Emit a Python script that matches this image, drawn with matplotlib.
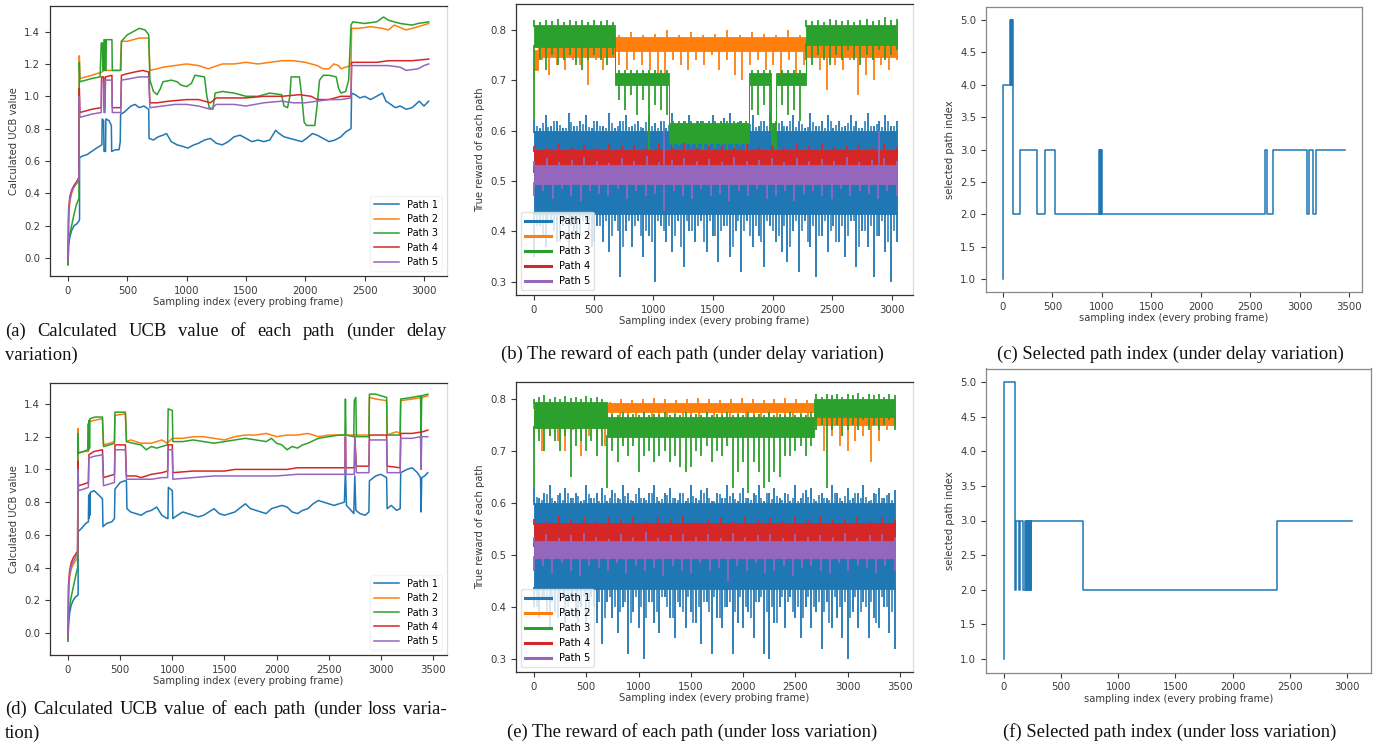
import numpy as np
import matplotlib
matplotlib.use("Agg")
import matplotlib.pyplot as plt
from matplotlib.lines import Line2D

W, H = 1379, 745
COLORS = ['#1f77b4', '#ff7f0e', '#2ca02c', '#d62728', '#9467bd']
LABELS = ['Path 1', 'Path 2', 'Path 3', 'Path 4', 'Path 5']

# ---------------- (a) UCB under delay variation ----------------
ucb_delay_p1 = [(0,-0.04),(5,0.08),(15,0.13),(30,0.17),(50,0.20),(70,0.21),(92,0.23),(97,0.24),(97,0.62),(120,0.63),(160,0.64),(200,0.66),(240,0.68),(285,0.70),(288,0.86),(300,0.85),(303,0.66),(316,0.66),(319,0.86),(345,0.85),(365,0.82),(368,0.66),(400,0.67),(430,0.67),(440,0.72),(443,0.89),(470,0.90),(500,0.92),(530,0.94),(565,0.95),(600,0.93),(640,0.94),(680,0.92),(683,0.74),(720,0.73),(760,0.75),(800,0.76),(830,0.77),(870,0.72),(920,0.70),(970,0.69),(1010,0.68),(1060,0.70),(1100,0.71),(1150,0.73),(1200,0.74),(1250,0.71),(1300,0.70),(1350,0.72),(1400,0.75),(1450,0.76),(1500,0.74),(1550,0.72),(1600,0.73),(1650,0.72),(1700,0.73),(1750,0.79),(1780,0.77),(1820,0.75),(1870,0.74),(1920,0.73),(1970,0.72),(2010,0.74),(2060,0.77),(2100,0.76),(2150,0.74),(2200,0.72),(2250,0.73),(2300,0.75),(2340,0.78),(2385,0.80),(2390,1.02),(2420,1.01),(2460,0.99),(2500,1.00),(2550,0.98),(2600,1.00),(2650,1.02),(2680,0.97),(2720,0.95),(2760,0.93),(2800,0.94),(2850,0.92),(2900,0.93),(2930,0.95),(2960,0.97),(3000,0.94),(3040,0.97)]
ucb_delay_p2 = [(0,-0.03),(5,0.25),(15,0.35),(30,0.40),(50,0.44),(70,0.46),(92,0.48),(95,1.25),(100,1.11),(150,1.12),(200,1.13),(285,1.15),(300,1.16),(370,1.16),(440,1.16),(450,1.34),(500,1.34),(550,1.35),(600,1.36),(680,1.36),(690,1.16),(750,1.17),(800,1.18),(900,1.19),(1000,1.20),(1100,1.19),(1180,1.17),(1220,1.18),(1300,1.20),(1400,1.20),(1500,1.21),(1600,1.20),(1700,1.21),(1800,1.22),(1900,1.22),(2000,1.21),(2100,1.19),(2150,1.17),(2200,1.17),(2240,1.20),(2280,1.19),(2300,1.17),(2340,1.18),(2385,1.19),(2390,1.42),(2450,1.42),(2550,1.43),(2650,1.42),(2700,1.41),(2750,1.44),(2850,1.41),(2950,1.43),(3040,1.45)]
ucb_delay_p3 = [(0,-0.04),(5,0.10),(15,0.15),(30,0.20),(50,0.27),(70,0.33),(92,0.37),(95,1.21),(100,1.09),(150,1.10),(200,1.11),(270,1.12),(280,1.33),(290,1.33),(293,1.16),(300,1.16),(303,1.35),(310,1.35),(313,1.16),(320,1.16),(323,1.35),(370,1.35),(373,1.16),(445,1.16),(450,1.34),(500,1.38),(550,1.40),(600,1.42),(650,1.41),(680,1.38),(690,1.10),(720,1.03),(750,1.01),(780,1.05),(800,1.09),(870,1.10),(920,1.09),(950,1.07),(1000,1.06),(1040,1.08),(1070,1.13),(1150,1.12),(1170,1.00),(1190,0.93),(1220,0.92),(1240,1.02),(1300,1.03),(1400,1.02),(1500,1.00),(1600,1.00),(1700,1.02),(1800,1.01),(1820,0.94),(1850,0.93),(1870,1.00),(1880,1.12),(1950,1.12),(1970,1.00),(1990,0.84),(2010,0.82),(2080,0.82),(2100,0.95),(2120,1.10),(2150,1.13),(2200,1.13),(2260,1.12),(2280,1.05),(2300,1.02),(2340,1.03),(2365,1.10),(2385,1.44),(2400,1.46),(2500,1.45),(2600,1.46),(2660,1.49),(2700,1.47),(2800,1.45),(2900,1.44),(2950,1.45),(3040,1.46)]
ucb_delay_p4 = [(0,-0.02),(5,0.30),(15,0.38),(30,0.42),(50,0.45),(70,0.47),(92,0.50),(95,1.05),(100,0.90),(150,0.91),(200,0.92),(280,0.93),(283,1.12),(300,1.12),(303,0.93),(312,0.93),(315,1.12),(370,1.13),(373,0.93),(445,0.93),(450,1.13),(500,1.14),(560,1.15),(630,1.16),(680,1.15),(690,0.96),(750,0.96),(850,0.97),(1000,0.98),(1100,0.98),(1200,0.96),(1250,0.99),(1350,0.99),(1500,0.99),(1650,1.00),(1800,1.00),(1950,1.01),(2050,1.00),(2100,0.98),(2200,0.98),(2300,1.00),(2385,1.00),(2390,1.21),(2500,1.21),(2600,1.21),(2700,1.22),(2800,1.22),(2900,1.22),(3040,1.23)]
ucb_delay_p5 = [(0,-0.02),(5,0.28),(15,0.36),(30,0.41),(50,0.44),(70,0.46),(92,0.49),(95,1.00),(100,0.87),(150,0.88),(200,0.89),(280,0.90),(283,1.09),(300,1.09),(303,0.90),(312,0.90),(315,1.10),(370,1.10),(373,0.90),(445,0.90),(450,1.10),(530,1.11),(600,1.12),(680,1.12),(690,0.93),(800,0.94),(900,0.95),(1000,0.95),(1100,0.94),(1200,0.92),(1250,0.95),(1400,0.95),(1500,0.94),(1650,0.96),(1800,0.97),(1900,0.96),(2000,0.96),(2100,0.97),(2200,0.98),(2300,0.98),(2385,0.99),(2390,1.19),(2500,1.19),(2600,1.19),(2700,1.19),(2800,1.18),(2850,1.16),(2950,1.17),(3000,1.19),(3040,1.20)]

# ---------------- (d) UCB under loss variation ----------------
ucb_loss_p1 = [(0,-0.05),(5,0.05),(15,0.12),(30,0.17),(50,0.20),(70,0.22),(92,0.23),(97,0.24),(97,0.62),(130,0.64),(170,0.67),(195,0.68),(198,0.84),(202,0.70),(206,0.85),(210,0.72),(214,0.86),(250,0.87),(300,0.84),(330,0.82),(335,0.65),(370,0.67),(420,0.68),(445,0.70),(450,0.88),(500,0.92),(540,0.93),(560,0.93),(565,0.76),(600,0.74),(650,0.73),(700,0.72),(750,0.74),(800,0.75),(850,0.77),(900,0.72),(950,0.70),(958,0.70),(962,0.89),(1000,0.87),(1005,0.70),(1050,0.72),(1100,0.74),(1150,0.73),(1200,0.72),(1250,0.71),(1300,0.72),(1350,0.74),(1400,0.76),(1450,0.73),(1500,0.72),(1550,0.73),(1600,0.74),(1700,0.79),(1750,0.76),(1800,0.75),(1850,0.74),(1900,0.73),(1950,0.76),(2000,0.77),(2050,0.78),(2100,0.77),(2150,0.74),(2200,0.73),(2250,0.75),(2300,0.76),(2350,0.79),(2400,0.81),(2450,0.80),(2500,0.79),(2550,0.78),(2600,0.79),(2650,0.80),(2660,1.00),(2670,0.78),(2700,0.76),(2740,0.73),(2750,0.96),(2760,0.75),(2800,0.73),(2850,0.72),(2885,0.74),(2890,0.93),(2950,0.96),(3000,0.97),(3055,0.95),(3060,0.76),(3100,0.78),(3150,0.75),(3185,0.76),(3190,0.98),(3250,1.00),(3300,1.01),(3350,0.98),(3380,0.95),(3385,0.74),(3392,0.95),(3420,0.96),(3450,0.98)]
ucb_loss_p2 = [(0,-0.03),(5,0.25),(15,0.34),(30,0.39),(50,0.42),(70,0.44),(92,0.46),(95,1.25),(100,1.10),(150,1.11),(195,1.11),(200,1.29),(250,1.30),(330,1.31),(340,1.15),(400,1.16),(445,1.17),(450,1.33),(550,1.34),(560,1.17),(600,1.18),(650,1.17),(700,1.16),(800,1.16),(850,1.17),(900,1.18),(950,1.16),(1000,1.19),(1100,1.19),(1200,1.20),(1300,1.20),(1400,1.19),(1500,1.18),(1600,1.20),(1700,1.21),(1800,1.21),(1900,1.22),(2000,1.20),(2100,1.21),(2200,1.21),(2300,1.22),(2400,1.20),(2500,1.21),(2600,1.21),(2700,1.21),(2885,1.21),(2890,1.44),(2950,1.43),(3055,1.42),(3060,1.21),(3150,1.23),(3185,1.22),(3190,1.42),(3300,1.43),(3400,1.44),(3450,1.45)]
ucb_loss_p3 = [(0,-0.04),(5,0.10),(15,0.16),(30,0.22),(50,0.28),(70,0.34),(92,0.40),(95,1.22),(100,1.10),(150,1.11),(190,1.12),(195,1.28),(198,1.12),(202,1.30),(206,1.13),(210,1.31),(260,1.32),(330,1.32),(340,1.14),(400,1.15),(445,1.16),(450,1.35),(550,1.35),(560,1.17),(620,1.16),(700,1.15),(750,1.12),(800,1.14),(850,1.13),(900,1.14),(955,1.15),(960,1.37),(1000,1.36),(1005,1.17),(1100,1.17),(1200,1.18),(1300,1.17),(1400,1.16),(1500,1.17),(1600,1.18),(1700,1.19),(1800,1.18),(1900,1.17),(1950,1.19),(2000,1.16),(2050,1.15),(2100,1.12),(2150,1.14),(2200,1.13),(2250,1.15),(2300,1.16),(2400,1.19),(2500,1.20),(2600,1.21),(2655,1.21),(2660,1.43),(2665,1.21),(2740,1.20),(2745,1.42),(2760,1.44),(2765,1.20),(2885,1.20),(2890,1.46),(2950,1.46),(3000,1.45),(3055,1.44),(3060,1.21),(3185,1.21),(3190,1.43),(3300,1.44),(3380,1.45),(3385,1.20),(3392,1.45),(3450,1.46)]
ucb_loss_p4 = [(0,-0.02),(5,0.30),(15,0.38),(30,0.43),(50,0.46),(70,0.48),(92,0.50),(95,1.05),(100,0.90),(150,0.91),(195,0.92),(200,1.09),(250,1.11),(330,1.12),(340,0.95),(445,0.97),(450,1.15),(550,1.15),(560,0.96),(650,0.96),(700,0.95),(800,0.97),(900,0.98),(955,0.99),(960,1.15),(1000,1.15),(1005,0.98),(1200,0.99),(1400,0.99),(1500,0.99),(1600,1.00),(1800,1.00),(2000,1.00),(2100,1.00),(2200,1.01),(2400,1.01),(2500,1.01),(2655,1.01),(2660,1.20),(2665,1.01),(2745,1.01),(2750,1.20),(2765,1.02),(2885,1.02),(2890,1.21),(3055,1.21),(3060,1.02),(3185,1.01),(3190,1.22),(3300,1.22),(3400,1.23),(3450,1.24)]
ucb_loss_p5 = [(0,-0.02),(5,0.28),(15,0.36),(30,0.41),(50,0.44),(70,0.46),(92,0.49),(95,1.00),(100,0.87),(150,0.88),(195,0.89),(200,1.07),(250,1.08),(330,1.09),(340,0.90),(445,0.92),(450,1.12),(550,1.12),(560,0.94),(650,0.94),(800,0.94),(900,0.95),(955,0.95),(960,1.12),(1000,1.12),(1005,0.94),(1200,0.95),(1400,0.96),(1600,0.96),(1800,0.96),(2000,0.96),(2200,0.97),(2400,0.97),(2500,0.97),(2655,0.97),(2660,1.20),(2665,0.97),(2745,0.97),(2750,1.19),(2765,0.98),(2885,0.98),(2890,1.18),(3055,1.18),(3060,0.98),(3185,0.98),(3190,1.19),(3300,1.19),(3380,1.20),(3385,1.00),(3392,1.20),(3450,1.20)]

# ---------------- (b) true reward under delay variation ----------------
rew_delay_core_x = {1: [0, 3040], 2: [0, 30, 680, 2280, 3040],
                    3: [0, 680, 1130, 1800, 1990, 2030, 2280, 3040], 4: [0, 3040], 5: [0, 3040]}
rew_delay_core_lo = {1: [0.435, 0.435], 2: [0.72, 0.745, 0.758, 0.745, 0.745],
                     3: [0.765, 0.69, 0.575, 0.69, 0.57, 0.69, 0.77, 0.77], 4: [0.527, 0.527], 5: [0.495, 0.495]}
rew_delay_core_hi = {1: [0.60, 0.60], 2: [0.76, 0.785, 0.785, 0.785, 0.785],
                     3: [0.81, 0.715, 0.615, 0.715, 0.615, 0.715, 0.81, 0.81], 4: [0.562, 0.562], 5: [0.532, 0.532]}
rew_delay_top = {
    1: [0.62,0.605,0.63,0.61,0.62,0.605,0.635,0.61,0.62,0.63,0.605,0.62,0.61,0.635,0.605,0.62,0.63,0.61,0.62,0.605,0.63,0.615,0.62,0.605,0.635,0.61,0.62,0.63,0.605,0.62,0.61,0.63,0.605,0.625,0.635,0.61,0.62,0.605,0.63,0.61,0.62,0.635,0.605,0.62,0.61,0.63,0.62,0.605,0.635,0.61,0.62,0.63,0.605,0.62,0.61,0.63,0.62,0.605,0.635,0.61,0.62,0.63,0.61,0.62],
    2: [0.76,0.79,0.792,0.79,0.795,0.79,0.792,0.79,0.795,0.79,0.792,0.80,0.79,0.795,0.79,0.792,0.80,0.79,0.795,0.792,0.79,0.80,0.79,0.795,0.79,0.792,0.795,0.79,0.80,0.79,0.795],
    3: [0.82,0.815,0.82,0.818,0.822,0.815,0.82,0.818,0.82,0.815,0.82,0.818,0.82,0.815,
        0.72,0.72,0.72,0.72,0.72,0.72,0.72,0.72,0.72,
        0.62,0.62,0.62,0.62,0.62,0.62,0.62,0.62,0.62,0.62,0.62,0.62,0.62,
        0.72,0.72,0.72,0.72, 0.62, 0.72,0.72,0.72,0.72,
        0.82,0.818,0.82,0.815,0.822,0.82,0.818,0.82,0.815,0.82,0.822,0.818,0.82,0.825,0.82,0.822],
    4: [0.57,0.565,0.575,0.568,0.572,0.566,0.574,0.569,0.571,0.565,0.573,0.567,0.575,0.566,0.57,0.572,0.565,0.574,0.568,0.571,0.566,0.573,0.569,0.575,0.567,0.57,0.572,0.566,0.574,0.568],
    5: [0.54,0.545,0.538,0.542,0.548,0.54,0.536,0.545,0.54,0.55,0.538,0.542,0.546,0.54,0.544,0.538,0.548,0.54,0.542,0.545,0.538,0.546,0.54,0.544,0.54,0.548,0.538,0.542,0.545,0.54]}
rew_delay_bottom = {
    1: [0.35,0.41,0.37,0.42,0.38,0.41,0.36,0.40,0.39,0.42,0.37,0.41,0.38,0.36,0.42,0.31,0.40,0.37,0.42,0.35,0.39,0.30,0.41,0.38,0.36,0.42,0.33,0.40,0.38,0.42,0.36,0.39,0.34,0.41,0.35,0.40,0.32,0.42,0.37,0.39,0.33,0.41,0.38,0.36,0.34,0.40,0.32,0.42,0.37,0.31,0.39,0.36,0.41,0.38,0.35,0.42,0.33,0.40,0.37,0.31,0.39,0.36,0.30,0.38],
    2: [0.70,0.74,0.71,0.73,0.72,0.74,0.73,0.69,0.74,0.72,0.75,0.73,0.72,0.74,0.73,0.72,0.70,0.71,0.74,0.73,0.72,0.74,0.73,0.75,0.72,0.74,0.71,0.70,0.73,0.74,0.72,0.73,0.70,0.74,0.71,0.73,0.75,0.72,0.68,0.73,0.72,0.74,0.67,0.71,0.70,0.73,0.72,0.74],
    3: [0.62,0.74,0.72,0.75,0.73,0.74,0.75,0.73,0.72,0.74,0.75,0.74,0.73,0.75,
        0.66,0.64,0.67,0.63,0.66,0.56,0.65,0.64,0.63,
        0.565,0.57,0.56,0.57,0.565,0.56,0.57,0.565,0.57,0.56,0.565,0.57,0.555,
        0.64,0.63,0.65,0.60, 0.49, 0.65,0.63,0.64,0.62,
        0.74,0.73,0.75,0.74,0.73,0.75,0.74,0.76,0.74,0.73,0.75,0.74,0.76,0.74,0.75,0.76],
    4: [0.515,0.52,0.51,0.518,0.512,0.52,0.514,0.509,0.517,0.512,0.52,0.51,0.516,0.513,0.519,0.511,0.517,0.52,0.512,0.515,0.51,0.518,0.513,0.52,0.511,0.516,0.514,0.519,0.512,0.517],
    5: [0.47,0.48,0.465,0.485,0.47,0.46,0.48,0.475,0.47,0.485,0.465,0.48,0.47,0.475,0.44,0.48,0.47,0.465,0.485,0.47,0.475,0.46,0.48,0.47,0.485,0.465,0.47,0.48,0.46,0.475,0.48,0.47,0.465,0.485,0.47,0.48,0.475,0.465,0.48,0.47]}
# smaller in-between excursions of path 1 (half-way between the peaks above)
rew_delay_top_mid = {1: [0.61,0.615,0.608,0.62,0.612,0.605,0.618,0.61,0.614,0.607,0.62,0.61,0.606,0.616,0.61,0.62,0.608,0.613,0.607,0.618,0.61,0.605,0.62,0.612,0.608,0.615,0.61,0.606,0.619,0.61,0.614,0.607,0.62,0.61,0.605,0.617,0.61,0.613,0.608,0.62,0.61,0.606,0.616,0.61,0.62,0.608,0.613,0.607,0.618,0.61,0.605,0.62,0.612,0.608,0.615,0.61,0.606,0.619,0.61,0.614,0.607,0.62,0.61]}
rew_delay_bottom_mid = {1: [0.41,0.39,0.42,0.40,0.38,0.42,0.41,0.39,0.42,0.40,0.38,0.41,0.42,0.39,0.40,0.37,0.42,0.41,0.39,0.40,0.38,0.42,0.40,0.41,0.39,0.37,0.42,0.40,0.41,0.38,0.42,0.39,0.40,0.41,0.37,0.42,0.40,0.39,0.41,0.38,0.42,0.40,0.39,0.41,0.37,0.42,0.40,0.38,0.41,0.39,0.42,0.40,0.38,0.41,0.39,0.42,0.37,0.40,0.41,0.39,0.42,0.38,0.40]}
rew_delay_outliers = {5: [(1090, 0.60), (2890, 0.60)]}

# ---------------- (e) true reward under loss variation ----------------
rew_loss_core_x = {1: [0, 3450], 2: [0, 700, 2680, 3450], 3: [0, 700, 2680, 3450], 4: [0, 3450], 5: [0, 3450]}
rew_loss_core_lo = {1: [0.435, 0.435], 2: [0.745, 0.775, 0.75, 0.75], 3: [0.745, 0.728, 0.765, 0.765],
                    4: [0.527, 0.527], 5: [0.495, 0.495]}
rew_loss_core_hi = {1: [0.60, 0.60], 2: [0.785, 0.792, 0.782, 0.782], 3: [0.795, 0.765, 0.80, 0.80],
                    4: [0.562, 0.562], 5: [0.528, 0.528]}
rew_loss_top = {
    1: [0.63,0.61,0.62,0.635,0.605,0.62,0.63,0.61,0.62,0.605,0.635,0.61,0.62,0.63,0.605,0.625,0.61,0.635,0.62,0.605,0.63,0.61,0.62,0.635,0.605,0.62,0.63,0.61,0.62,0.605,0.635,0.61,0.625,0.63,0.605,0.62,0.61,0.635,0.62,0.605,0.63,0.61,0.62,0.635,0.605,0.62,0.63,0.61,0.62,0.605,0.635,0.61,0.625,0.63,0.605,0.62,0.61,0.635,0.62,0.605,0.63,0.61,0.62,0.635,0.605,0.62,0.63,0.61,0.62,0.625],
    2: [0.79,0.792,0.79,0.795,0.79,0.792,0.79,0.795,0.80,0.798,0.80,0.802,0.80,0.798,0.80,0.802,0.80,0.798,0.80,0.802,0.80,0.798,0.80,0.802,0.80,0.798,0.80,0.79,0.792,0.79,0.795,0.79,0.792,0.79],
    3: [0.80,0.805,0.808,0.80,0.805,0.80,0.806,0.802,0.805,0.80,0.806,0.802,0.805,0.80,
        0.77,0.772,0.77,0.775,0.77,0.772,0.77,0.775,0.77,0.772,0.77,0.775,0.77,0.772,0.77,0.775,0.77,0.772,0.77,0.775,0.77,0.772,0.77,0.775,0.77,0.772,0.77,0.775,0.77,0.772,0.77,0.775,0.77,0.772,0.77,0.775,0.77,0.772,0.77,0.775,
        0.81,0.805,0.81,0.808,0.81,0.805,0.81,0.808,0.812,0.805,0.81,0.808,0.81,0.805,0.81,0.808],
    4: [0.57,0.565,0.575,0.568,0.572,0.566,0.574,0.569,0.571,0.565,0.573,0.567,0.575,0.566,0.57,0.572,0.565,0.574,0.568,0.571,0.566,0.573,0.569,0.575,0.567,0.57,0.572,0.566,0.574,0.568],
    5: [0.535,0.54,0.533,0.538,0.542,0.535,0.532,0.54,0.535,0.545,0.533,0.538,0.54,0.535,0.54,0.533,0.542,0.535,0.538,0.54,0.533,0.54,0.535,0.538,0.535,0.542,0.533,0.538,0.54,0.535]}
rew_loss_bottom = {
    1: [0.40,0.38,0.42,0.36,0.39,0.41,0.37,0.42,0.38,0.40,0.36,0.42,0.37,0.33,0.41,0.38,0.35,0.40,0.31,0.39,0.36,0.30,0.41,0.37,0.35,0.42,0.38,0.34,0.40,0.36,0.39,0.37,0.33,0.41,0.31,0.38,0.36,0.40,0.31,0.37,0.36,0.39,0.34,0.41,0.31,0.30,0.37,0.40,0.36,0.42,0.38,0.34,0.40,0.36,0.39,0.32,0.41,0.36,0.38,0.34,0.30,0.39,0.36,0.41,0.34,0.38,0.36,0.40,0.35,0.32],
    2: [0.72,0.70,0.73,0.72,0.70,0.74,0.69,0.73,0.72,0.71,
        0.75,0.76,0.74,0.76,0.75,0.76,0.74,0.73,0.76,0.75,0.74,0.75,0.76,0.75,0.74,0.76,0.75,0.76,0.74,0.75,0.76,0.75,0.74,0.76,0.75,0.76,
        0.74,0.70,0.73,0.71,0.70,0.72,0.73,0.68,0.72,0.74,0.75],
    3: [0.63,0.72,0.70,0.73,0.72,0.70,0.73,0.65,0.71,0.72,0.70,0.72,0.69,0.71,
        0.63,0.70,0.68,0.71,0.69,0.71,0.66,0.69,0.70,0.68,0.69,0.70,0.68,0.69,0.67,0.66,0.67,0.70,0.69,0.71,0.68,0.70,0.69,0.71,0.63,0.66,0.68,0.62,0.68,0.66,0.63,0.64,0.66,0.65,0.69,0.69,0.70,0.71,0.69,0.71,
        0.74,0.75,0.63,0.74,0.75,0.73,0.74,0.75,0.74,0.76,0.74,0.75,0.74,0.75,0.76,0.74],
    4: [0.515,0.52,0.51,0.518,0.512,0.52,0.514,0.509,0.517,0.512,0.52,0.51,0.516,0.513,0.519,0.511,0.517,0.52,0.512,0.515,0.51,0.518,0.513,0.52,0.511,0.516,0.514,0.519,0.512,0.517],
    5: [0.47,0.48,0.465,0.485,0.47,0.46,0.48,0.475,0.47,0.485,0.465,0.48,0.47,0.475,0.46,0.48,0.47,0.465,0.485,0.47,0.475,0.45,0.48,0.47,0.485,0.465,0.47,0.48,0.46,0.475,0.48,0.47,0.465,0.485,0.47,0.48,0.475,0.465,0.48,0.47]}
rew_loss_top_mid = {1: [0.612,0.607,0.618,0.61,0.615,0.606,0.62,0.61,0.613,0.607,0.618,0.61,0.605,0.616,0.61,0.62,0.608,0.614,0.607,0.618,0.61,0.606,0.62,0.612,0.608,0.615,0.61,0.606,0.619,0.61,0.614,0.607,0.62,0.61,0.605,0.617,0.61,0.613,0.608,0.62,0.61,0.606,0.616,0.61,0.62,0.608,0.613,0.607,0.618,0.61,0.605,0.62,0.612,0.608,0.615,0.61,0.606,0.619,0.61,0.614,0.607,0.62,0.61,0.612,0.607,0.618,0.61,0.615,0.606]}
rew_loss_bottom_mid = {1: [0.40,0.42,0.39,0.41,0.38,0.42,0.40,0.41,0.37,0.42,0.39,0.40,0.41,0.38,0.42,0.40,0.39,0.41,0.37,0.42,0.40,0.38,0.41,0.39,0.42,0.40,0.38,0.41,0.39,0.42,0.37,0.40,0.41,0.39,0.42,0.38,0.40,0.41,0.39,0.42,0.40,0.38,0.41,0.42,0.39,0.40,0.37,0.42,0.41,0.39,0.40,0.38,0.42,0.40,0.41,0.39,0.37,0.42,0.40,0.41,0.38,0.42,0.39,0.40,0.41,0.37,0.42,0.40,0.39]}
rew_loss_outliers = {}

# ---------------- (c)/(f) selected path index (change points) ----------------
sel_delay_x = [0, 3, 74, 80, 84, 90, 94, 101, 168, 343, 424, 529, 973, 978, 983, 988, 993, 1000, 2654, 2667, 2728, 3072, 3099, 3139, 3166, 3460]
sel_delay_y = [1, 4, 5, 4, 5, 4, 5, 2, 3, 2, 3, 2, 3, 2, 3, 2, 3, 2, 3, 2, 3, 2, 3, 2, 3, 3]
sel_loss_x = [0, 3, 99, 108, 134, 143, 166, 189, 195, 200, 205, 210, 215, 220, 225, 230, 235, 239, 690, 2391, 3040]
sel_loss_y = [1, 5, 2, 3, 2, 3, 2, 3, 2, 3, 2, 3, 2, 3, 2, 3, 2, 3, 2, 3, 3]

captions = {
    'a': "(a) Calculated UCB value of each path (under delay variation)",
    'b': "(b) The reward of each path (under delay variation)",
    'c': "(c) Selected path index (under delay variation)",
    'd': "(d) Calculated UCB value of each path (under loss varia- tion)",
    'e': "(e) The reward of each path (under loss variation)",
    'f': "(f) Selected path index (under loss variation)",
}

# ------------------------------------------------------------------
fig = plt.figure(figsize=(W / 100, H / 100), dpi=100)
fig.patch.set_facecolor('white')
TICK_FS = 7.3
LAB_FS = 7.2
TC = '#3a3a3a'


def add_axes(l, r, t, b):
    return fig.add_axes([l / W, 1 - b / H, (r - l) / W, (b - t) / H])


def style(ax, xticks, yticks, fmt):
    ax.set_xticks(xticks)
    ax.set_yticks(yticks)
    ax.set_yticklabels([fmt.format(v) for v in yticks])
    ax.tick_params(labelsize=TICK_FS, colors=TC, length=3.5, width=0.8)
    for s in ax.spines.values():
        s.set_color('#333333')
        s.set_linewidth(0.9)


def ucb_panel(ax, series, xlim, ylim, xticks):
    for pts, c, lab in zip(series, COLORS, LABELS):
        xs = [p[0] for p in pts]
        ys = [p[1] for p in pts]
        ax.plot(xs, ys, color=c, lw=1.1, label=lab)
    ax.set_xlim(*xlim)
    ax.set_ylim(*ylim)
    style(ax, xticks, [0.0, 0.2, 0.4, 0.6, 0.8, 1.0, 1.2, 1.4], "{:.1f}")
    ax.set_ylabel("Calculated UCB value", fontsize=LAB_FS, color=TC, labelpad=4)
    ax.set_xlabel("Sampling index (every probing frame)", fontsize=LAB_FS, color=TC, labelpad=1)
    leg = ax.legend(loc='lower right', fontsize=7, frameon=True, handlelength=2.6,
                    labelspacing=0.45, borderpad=0.4)
    leg.get_frame().set_edgecolor('#f2f2f2')
    ax.spines['right'].set_color('#dddddd')


def lookup(xe, vals, xq):
    idx = np.searchsorted(np.asarray(xe), np.asarray(xq), side='right') - 1
    idx = np.clip(idx, 0, len(vals) - 1)
    return np.asarray(vals)[idx]


def spikes(ax, cx, edge, vals, xend, c, z, up, lw, offset=False):
    n = len(vals)
    step = xend / (n if offset else n - 1)
    xs = np.arange(n) * step + (step / 2 if offset else 0)
    base = lookup(cx, edge, xs)
    if up:
        ax.vlines(xs, base - 0.004, vals, color=c, lw=lw, zorder=z)
    else:
        ax.vlines(xs, vals, base + 0.004, color=c, lw=lw, zorder=z)


def reward_panel(ax, cx, clo, chi, top, bot, topm, botm, outl, xend, xlim, ylim, xticks):
    for k in range(1, 6):
        c = COLORS[k - 1]
        z = 2 + k
        ax.fill_between(cx[k], clo[k], chi[k], step='post', color=c, lw=0.6, ec=c, zorder=z)
        if k in topm:
            spikes(ax, cx[k], chi[k], topm[k], xend, c, z, True, 1.1, offset=True)
        if k in botm:
            spikes(ax, cx[k], clo[k], botm[k], xend, c, z, False, 1.1, offset=True)
        spikes(ax, cx[k], chi[k], top[k], xend, c, z, True, 1.3)
        spikes(ax, cx[k], clo[k], bot[k], xend, c, z, False, 1.3)
        for (ox, oy) in outl.get(k, []):
            ax.vlines([ox], lookup(cx[k], chi[k], [ox]), [oy], color=c, lw=1.2, zorder=z)
    ax.set_xlim(*xlim)
    ax.set_ylim(*ylim)
    style(ax, xticks, [0.3, 0.4, 0.5, 0.6, 0.7, 0.8], "{:.1f}")
    ax.set_ylabel("True reward of each path", fontsize=LAB_FS, color=TC, labelpad=4)
    ax.set_xlabel("Sampling index (every probing frame)", fontsize=LAB_FS, color=TC, labelpad=1)
    handles = [Line2D([], [], color=c, lw=2.2) for c in COLORS]
    leg = ax.legend(handles, LABELS, loc='lower left', fontsize=7.2, frameon=True,
                    handlelength=2.6, labelspacing=0.5, borderpad=0.4)
    leg.set_zorder(20)
    leg.get_frame().set_edgecolor('#dddddd')
    ax.spines['right'].set_color('#dddddd')


def sel_panel(ax, xs, ys, xlim, xticks):
    ax.plot(xs, ys, drawstyle='steps-post', color=COLORS[0], lw=1.1)
    ax.set_xlim(*xlim)
    ax.set_ylim(0.8, 5.2)
    style(ax, xticks, [1.0, 1.5, 2.0, 2.5, 3.0, 3.5, 4.0, 4.5, 5.0], "{:.1f}")
    ax.set_ylabel("selected path index", fontsize=LAB_FS, color=TC, labelpad=4)
    ax.set_xlabel("sampling index (every probing frame)", fontsize=LAB_FS, color=TC, labelpad=1)
    for s in ax.spines.values():
        s.set_color('#888888')


X7 = [0, 500, 1000, 1500, 2000, 2500, 3000]
X8 = [0, 500, 1000, 1500, 2000, 2500, 3000, 3500]

ax_a = add_axes(50, 447, 6, 276)
ucb_panel(ax_a, [ucb_delay_p1, ucb_delay_p2, ucb_delay_p3, ucb_delay_p4, ucb_delay_p5],
          (-152, 3194), (-0.11, 1.558), X7)
ax_d = add_axes(50, 447, 383, 655)
ucb_panel(ax_d, [ucb_loss_p1, ucb_loss_p2, ucb_loss_p3, ucb_loss_p4, ucb_loss_p5],
          (-173, 3634), (-0.134, 1.528), X8)

ax_b = add_axes(516, 913, 4, 295)
reward_panel(ax_b, rew_delay_core_x, rew_delay_core_lo, rew_delay_core_hi,
             rew_delay_top, rew_delay_bottom, rew_delay_top_mid, rew_delay_bottom_mid,
             rew_delay_outliers, 3040, (-151, 3176), (0.274, 0.851), X7)
ax_e = add_axes(516, 913, 382, 672)
reward_panel(ax_e, rew_loss_core_x, rew_loss_core_lo, rew_loss_core_hi,
             rew_loss_top, rew_loss_bottom, rew_loss_top_mid, rew_loss_bottom_mid,
             rew_loss_outliers, 3450, (-172, 3625), (0.2756, 0.833), X8)

ax_c = add_axes(986, 1362, 7, 292)
sel_panel(ax_c, sel_delay_x, sel_delay_y, (-172, 3631), X8)
ax_f = add_axes(986, 1371, 368.5, 672.5)
sel_panel(ax_f, sel_loss_x, sel_loss_y, (-155, 3210), X7)

# ---------------- captions ----------------
SERIF = 'Liberation Serif'
renderer = fig.canvas.get_renderer()
probe = fig.text(0, 0, captions['b'], fontsize=12, family=SERIF)
wb = probe.get_window_extent(renderer).width
probe.remove()
CAP_FS = 12 * 383.0 / wb


def centered(text, xc, yc):
    fig.text(xc / W, 1 - yc / H, text, fontsize=CAP_FS, family=SERIF,
             ha='center', va='center', color='#111111')


def justified(words, x0, x1, yc):
    ts = [fig.text(0, 0, w, fontsize=CAP_FS, family=SERIF, va='center', color='#111111')
          for w in words]
    widths = [t.get_window_extent(renderer).width for t in ts]
    gap = (x1 - x0 - sum(widths)) / (len(words) - 1)
    x = x0
    for t, w in zip(ts, widths):
        t.set_position((x / W, 1 - yc / H))
        x += w + gap


def two_line(text, x0, x1, y1, y2, nfirst):
    words = text.split()
    justified(words[:nfirst], x0, x1, y1)
    fig.text(x0 / W, 1 - y2 / H, " ".join(words[nfirst:]), fontsize=CAP_FS, family=SERIF,
             va='center', color='#111111')


two_line(captions['a'], 5, 447, 331, 355, 9)
centered(captions['b'], 692, 354)
centered(captions['c'], 1170, 354)
two_line(captions['d'], 5, 447, 709, 733, 10)
centered(captions['e'], 692, 732)
centered(captions['f'], 1170, 732)

fig.savefig("out.png", dpi=100, facecolor='white')
